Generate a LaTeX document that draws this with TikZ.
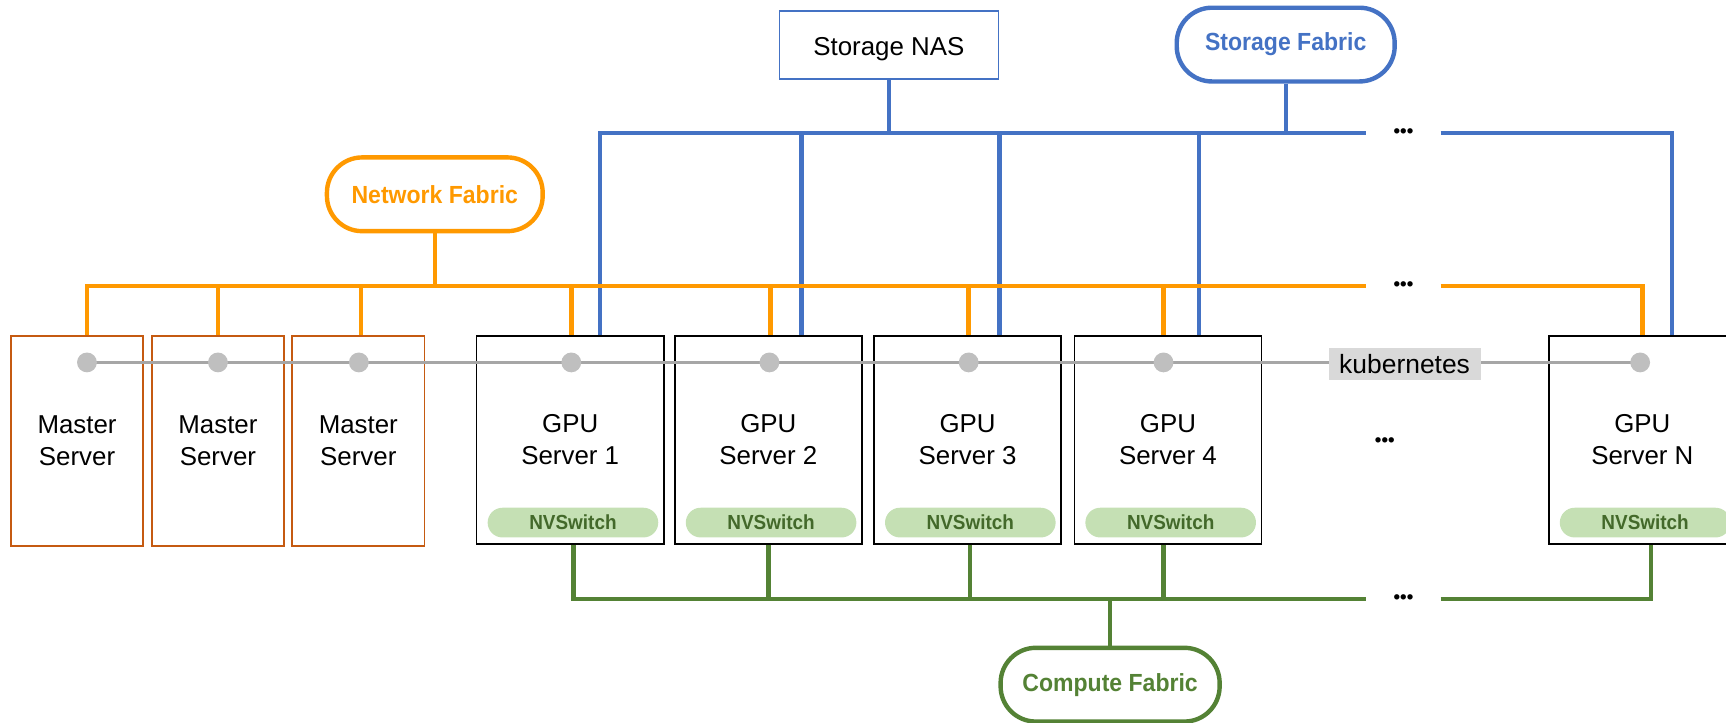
\documentclass[tikz,border=0pt]{standalone}
\usepackage{fontspec}
\setmainfont{Liberation Sans}
\newfontfamily\labelfont[FakeStretch=0.93]{Liberation Sans}
\definecolor{netorange}{HTML}{FF9900}
\definecolor{stblue}{HTML}{4472C4}
\definecolor{cgreen}{HTML}{548235}
\definecolor{mastercol}{HTML}{C55A11}
\definecolor{nvfill}{HTML}{C5E0B4}
\definecolor{nvtext}{HTML}{43692A}
\definecolor{kgray}{HTML}{A6A6A6}
\definecolor{kdot}{HTML}{BFBFBF}
\definecolor{kbg}{HTML}{D9D9D9}
\begin{document}
\begin{tikzpicture}[x=1pt,y=-1pt,
  base/.style={font=\fontsize{23.5}{29}\selectfont, align=center, inner sep=0pt},
  master/.style={base, draw=mastercol, line width=1.5pt, minimum width=120pt, minimum height=191pt},
  gpu/.style={base, draw=black, line width=1.5pt, minimum width=170pt, minimum height=189pt},
  nvs/.style={fill=nvfill, rounded corners=13.5pt, minimum width=155pt, minimum height=27pt,
              inner sep=0pt, font=\labelfont\fontsize{18.5}{20}\selectfont\bfseries, text=nvtext},
  fabric/.style={line width=4pt, rounded corners=32pt, minimum height=67pt, inner sep=0pt,
                 font=\labelfont\fontsize{22.5}{25}\selectfont\bfseries},
  bline/.style={draw=stblue, line width=4pt},
  oline/.style={draw=netorange, line width=4pt},
  gline/.style={draw=cgreen, line width=4pt},
  kline/.style={draw=kgray, line width=3pt},
  kdotst/.style={circle, fill=kdot, minimum size=18pt, inner sep=0pt},
  more/.style={font=\fontsize{17}{17}\selectfont\bfseries, inner sep=0pt, minimum width=67pt}]

\useasboundingbox (0,0) rectangle (1568,656);
\clip (0,0) rectangle (1568,656);

% servers
\node[master] (m1) at (70,400.5)  {Master\\Server};
\node[master] (m2) at (198,400.5) {Master\\Server};
\node[master] (m3) at (325.5,400.5) {Master\\Server};
\node[gpu] (g1) at (518,399.5)  {GPU\\Server 1};
\node[gpu] (g2) at (698,399.5)  {GPU\\Server 2};
\node[gpu] (g3) at (879,399.5)  {GPU\\Server 3};
\node[gpu] (g4) at (1061,399.5) {GPU\\Server 4};
\node[gpu] (gN) at (1492,399.5) {GPU\\Server N};
\node[more, minimum width=0pt] (em) at (1258,402) {•••};

% NVSwitch inside each GPU server
\foreach \g in {g1,g2,g3,g4,gN}
  \node[nvs] (nv\g) at ([xshift=2.5pt,yshift=20pt]\g.south) {NVSwitch};

% fabrics and storage
\node[base, draw=stblue, line width=1.5pt, minimum width=199pt, minimum height=62pt,
      text height=20pt, text depth=1pt] (nas) at (807.5,41) {Storage NAS};
\node[fabric, draw=stblue, text=stblue, minimum width=198pt] (sf) at (1168,40.5) {Storage Fabric};
\node[fabric, draw=netorange, text=netorange, minimum width=196pt] (nf) at (395,176.5) {Network Fabric};
\node[fabric, draw=cgreen, text=cgreen, minimum width=199pt] (cf) at (1008.5,622) {Compute Fabric};

% bus levels
\coordinate (sbus) at (0,121);
\coordinate (obus) at (0,260);
\coordinate (gbus) at (0,544);
\node[more] (eb) at (1275,121) {•••};
\node[more] (eo) at (1275,260) {•••};
\node[more] (eg) at (1275,544) {•••};

% storage fabric
\draw[bline] ([xshift=27pt]g1.north) |- (eb.west);
\draw[bline] (eb.east) -| ([xshift=27pt]gN.north);
\foreach \n/\dx in {g2/30,g3/29,g4/28}
  \draw[bline] ([xshift=\dx pt]\n.north) -- ([xshift=\dx pt]\n.north |- sbus);
\draw[bline] (nas.south) -- (nas.south |- sbus);
\draw[bline] (sf.south) -- (sf.south |- sbus);

% network fabric
\draw[oline] ([xshift=9pt]m1.north) |- (eo.west);
\draw[oline] (eo.east) -| (gN.north);
\foreach \n/\dx in {m2/0,m3/2.5,g1/1,g2/2,g3/1,g4/-4}
  \draw[oline] ([xshift=\dx pt]\n.north) -- ([xshift=\dx pt]\n.north |- obus);
\draw[oline] (nf.south) -- (nf.south |- obus);

% compute fabric
\draw[gline] ([xshift=3pt]g1.south) |- (eg.west);
\draw[gline] (eg.east) -| ([xshift=8pt]gN.south);
\foreach \n/\dx in {g2/0,g3/2,g4/-4}
  \draw[gline] ([xshift=\dx pt]\n.south) -- ([xshift=\dx pt]\n.south |- gbus);
\draw[gline] (cf.north) -- (cf.north |- gbus);

% kubernetes cluster line
\foreach \n/\dx [count=\i] in {m1/9,m2/0,m3/0.5,g1/1,g2/1,g3/1,g4/-4,gN/-2}
  \coordinate (d\i) at ([xshift=\dx pt,yshift=-25pt]\n.north);
\draw[kline] (d1) -- (d8);
\foreach \i in {1,...,8}
  \node[kdotst] (dot\i) at (d\i) {};
\node[fill=kbg, inner sep=0pt, minimum width=138pt, minimum height=29pt,
      font=\fontsize{24}{28}\selectfont] (k8s) at (1276,330.5) {kubernetes};
\end{tikzpicture}
\end{document}
